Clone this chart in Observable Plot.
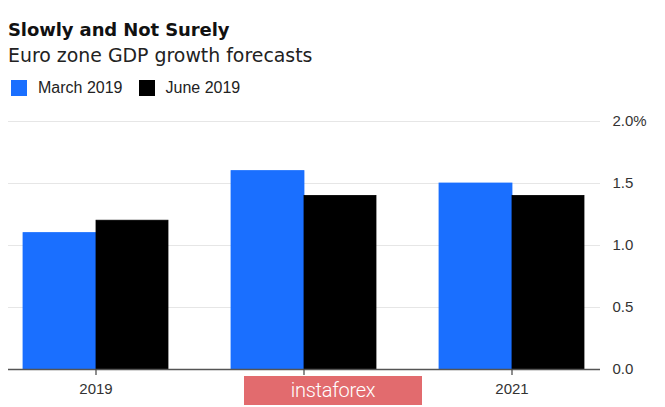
<!DOCTYPE html>
<html>
<head>
<meta charset="utf-8">
<script src="https://cdn.jsdelivr.net/npm/d3@7"></script>
<script src="https://cdn.jsdelivr.net/npm/@observablehq/plot@0.6"></script>
<style>
  html, body { margin: 0; padding: 0; background: #fff; }
  #wrap { position: relative; width: 665px; height: 407px; overflow: hidden; font-family: "Liberation Sans", Arial, sans-serif; color: #111; }
  #title { position: absolute; left: 8px; top: 21px; font-family: "DejaVu Sans", sans-serif; font-size: 18px; line-height: 1; font-weight: bold; letter-spacing: -0.1px; color: #111; }
  #subtitle { position: absolute; left: 8px; top: 46px; font-family: "DejaVu Sans", sans-serif; font-size: 18.9px; line-height: 1; color: #222; }
  #legend { position: absolute; left: 11px; top: 80px; font-size: 16px; line-height: 16px; color: #222; display: flex; align-items: center; }
  .sw { display: inline-block; width: 16px; height: 16px; margin-right: 11px; }
  .item { display: flex; align-items: center; margin-right: 16px; }
  #chart { position: absolute; left: 0; top: 100px; }
  #chart svg text { font-size: 15px; }
  #wm { position: absolute; left: 244px; top: 376px; width: 178px; height: 29px; background: #e26b6e; color: #fff; font-family: Roboto, sans-serif; font-weight: 300; font-size: 20px; line-height: 29px; text-align: center; letter-spacing: -0.3px; }
</style>
</head>
<body>
<div id="wrap">
  <div id="title">Slowly and Not Surely</div>
  <div id="subtitle">Euro zone GDP growth forecasts</div>
  <div id="legend"></div>
  <div id="chart"></div>
  <div id="wm">instaforex</div>
</div>
<script>
const years = ["2019", "2020", "2021"];
const seriesNames = ["March 2019", "June 2019"];
const march2019 = [1.1, 1.6, 1.5];
const june2019 = [1.2, 1.4, 1.4];
const yTicks = [0, 0.5, 1.0, 1.5, 2.0];
const colors = ["#1a6fff", "#000000"];

const rows = [];
years.forEach((yr, i) => {
  rows.push({year: yr, series: seriesNames[0], value: march2019[i]});
  rows.push({year: yr, series: seriesNames[1], value: june2019[i]});
});

// legend
const legend = document.getElementById("legend");
seriesNames.forEach((s, i) => {
  const item = document.createElement("div");
  item.className = "item";
  item.innerHTML = `<span class="sw" style="background:${colors[i]}"></span><span>${s}</span>`;
  legend.appendChild(item);
});

const W = 665, H = 307;
const mL = 8, mR = 65, mT = 21, mB = 38;
const xOpts = {type: "band", domain: years, range: [mL, W - mR], paddingInner: 0.3014, paddingOuter: 0.067, round: true};
const bw = Plot.scale({x: xOpts}).bandwidth;
const half = Math.round(bw / 2);

const chart = Plot.plot({
  width: W,
  height: H,
  marginLeft: mL,
  marginRight: mR,
  marginTop: mT,
  marginBottom: mB,
  style: {fontFamily: "Liberation Sans, Arial, sans-serif", fontSize: "15px", color: "#333", background: "transparent"},
  x: {...xOpts, label: null},
  y: {domain: [0, 2], label: null},
  marks: [
    Plot.ruleY(yTicks.filter(d => d > 0), {stroke: "#e6e6e6", strokeWidth: 1}),
    Plot.barY(rows.filter(d => d.series === seriesNames[0]), {x: "year", y: "value", fill: colors[0], stroke: colors[0], strokeWidth: 0.8, insetLeft: 0, insetRight: bw - half}),
    Plot.barY(rows.filter(d => d.series === seriesNames[1]), {x: "year", y: "value", fill: colors[1], stroke: colors[1], strokeWidth: 0.8, insetLeft: half, insetRight: 0}),
    Plot.ruleY([0], {stroke: "#555", strokeWidth: 1.5}),
    Plot.ruleX(years, {x: d => d, y1: 0, y2: 0, insetBottom: -6, stroke: "#444", strokeWidth: 1.2}),
    Plot.axisX({anchor: "bottom", tickSize: 0, tickPadding: 14, fill: "#333"}),
    Plot.axisY({anchor: "right", ticks: yTicks, tickSize: 0, tickPadding: 12, fill: "#333",
      tickFormat: d => d === 2 ? d3.format(".1f")(d) + "%" : d3.format(".1f")(d)})
  ]
});
document.getElementById("chart").appendChild(chart);
</script>
</body>
</html>
